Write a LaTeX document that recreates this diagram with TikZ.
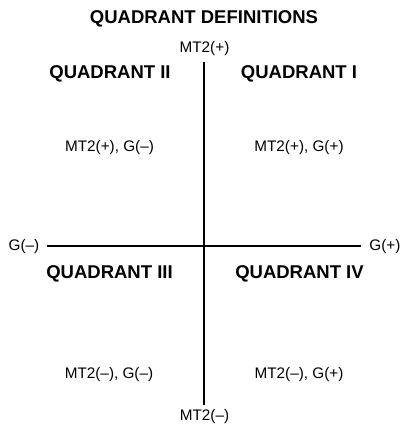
\documentclass[tikz,border=0pt]{standalone}
\usepackage{fontspec}
\setmainfont{Liberation Sans}
\begin{document}
\begin{tikzpicture}[x=1bp,y=-1bp,
  head/.style={font=\fontsize{18.5bp}{20bp}\selectfont\bfseries, inner sep=0pt},
  lab/.style={font=\fontsize{15.3bp}{17bp}\selectfont, inner sep=0pt},
  axis/.style={line width=2bp, black}]
\useasboundingbox (0,0) rectangle (402,431);
\node[head] (title) at (204,19) {QUADRANT DEFINITIONS};
\node[lab] (top) at (204.5,49) {MT2(+)};
\node[lab] (bot) at (204.5,417) {MT2(\textendash)};
\node[lab] (left) at (24,246.5) {G(\textendash)};
\node[lab] (right) at (385,246.5) {G(+)};
\coordinate (vt) at (204,62);
\coordinate (vb) at (204,405);
\coordinate (hl) at (47,246);
\coordinate (hr) at (361,246);
\draw[axis] (vt) -- (vb);
\draw[axis] (hl) -- (hr);
\node[head] (q2) at (110,73.5) {QUADRANT II};
\node[head] (q1) at (299,73.5) {QUADRANT I};
\node[head] (q3) at (109.5,273.5) {QUADRANT III};
\node[head] (q4) at (299.5,273.5) {QUADRANT IV};
\node[lab] (l2) at (109.5,147.5) {MT2(+), G(\textendash)};
\node[lab] (l1) at (299,147.5) {MT2(+), G(+)};
\node[lab] (l3) at (109,375) {MT2(\textendash), G(\textendash)};
\node[lab] (l4) at (299,375) {MT2(\textendash), G(+)};
\end{tikzpicture}
\end{document}
